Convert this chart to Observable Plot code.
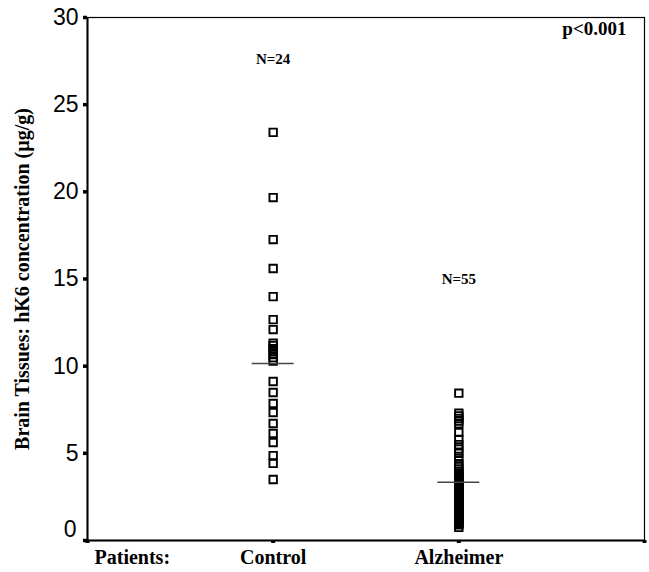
<!DOCTYPE html>
<html>
<head>
<meta charset="utf-8">
<script src="https://cdn.jsdelivr.net/npm/d3@7"></script>
<script src="https://cdn.jsdelivr.net/npm/@observablehq/plot@0.6"></script>
<style>
  html, body { margin: 0; padding: 0; background: #fff; }
  #chart svg { display: block; }
</style>
</head>
<body>
<div id="chart"></div>
<script>
// ---- Data ----
const groups = ["Control", "Alzheimer"];
const control = [23.41, 19.67, 17.26, 15.6, 13.99, 12.67, 12.1, 11.32, 11.18, 11.0,
  10.84, 10.67, 10.49, 10.29, 9.12, 8.49, 7.86, 7.34, 6.71, 6.14, 5.62, 4.87, 4.42, 3.5];
const alzheimer = [8.45, 7.3, 7.15, 7.0, 6.85, 6.7, 6.2, 5.8, 5.5, 5.25, 5.0, 4.7,
  4.4, 4.25, 4.1, 3.95, 3.85, 3.75, 3.65, 3.55, 3.5, 3.4, 3.3, 3.2, 3.1, 3.0,
  2.95, 2.85, 2.75, 2.65, 2.55, 2.45, 2.4, 2.3, 2.2, 2.1, 2.0, 1.95, 1.85, 1.75,
  1.7, 1.6, 1.5, 1.45, 1.4, 1.3, 1.25, 1.2, 1.15, 1.1, 1.05, 1.0, 0.95, 0.9, 0.75];
const centralValues = [10.15, 3.34];
const nLabels = ["N=24", "N=55"];
const yTicks = [0, 5, 10, 15, 20, 25, 30];
const xTicks = [0, 1, 2, 3];
const pLabel = "p<0.001";
const yTitle = "Brain Tissues: hK6 concentration (\u00b5g/g)";
const xTitle = "Patients:";

// ---- Tables built from the arrays ----
const points = [
  ...control.map(v => ({g: 1, value: v})),
  ...alzheimer.map(v => ({g: 2, value: v}))
];
const centers = centralValues.map((v, i) => ({g: i + 1, value: v}));
const nNotes = [{g: 1, y: 27.6, label: nLabels[0]}, {g: 2, y: 15.0, label: nLabels[1]}];

const serif = "'Liberation Serif', 'Times New Roman', serif";
const sans = "'Liberation Sans Narrow', 'Liberation Sans', Arial, sans-serif";

const chart = Plot.plot({
  width: 649,
  height: 572,
  marginLeft: 87,
  marginRight: 5,
  marginTop: 17,
  marginBottom: 32,
  style: {background: "#fff", color: "#000"},
  x: {domain: [0, 3]},
  y: {domain: [0, 30]},
  marks: [
    Plot.frame({stroke: "#000", strokeWidth: 1.2}),
    Plot.axisY({
      ticks: yTicks, tickSize: 4, tickPadding: 5, strokeWidth: 3.5,
      tickFormat: d => d === 0 ? "" : String(d),
      fontSize: 23, fontFamily: sans, fill: "#000", label: null
    }),
    Plot.axisY({
      ticks: [yTicks[0]], tickSize: 0, tickPadding: 11, dy: -11,
      fontSize: 23, fontFamily: sans, fill: "#000", label: null
    }),
    Plot.axisX({
      ticks: xTicks, tickSize: 3, tickPadding: 6, strokeWidth: 4,
      tickFormat: d => (d >= 1 && d <= 2) ? groups[d - 1] : "",
      fontSize: 20, fontWeight: "bold", fontFamily: serif, fill: "#000", label: null
    }),
    Plot.ruleX([0], {stroke: "#000", strokeWidth: 2}),
    Plot.ruleY([0], {stroke: "#000", strokeWidth: 2}),
    Plot.dot(points, {
      x: "g", y: "value", symbol: "square", r: 4.2,
      stroke: "#000", strokeWidth: 1.9, fill: "none"
    }),
    Plot.ruleY(centers, {
      y: "value", x1: d => d.g - 0.113, x2: d => d.g + 0.113,
      stroke: "#444", strokeWidth: 1.6
    }),
    Plot.text(nNotes, {
      x: "g", y: "y", text: "label",
      fontSize: 15, fontWeight: "bold", fontFamily: serif, fill: "#000"
    }),
    Plot.text([pLabel], {
      frameAnchor: "top-right", dx: -18, dy: 4, textAnchor: "end", lineAnchor: "top",
      fontSize: 19, fontWeight: "bold", fontFamily: serif, fill: "#000"
    }),
    Plot.text([xTitle], {
      frameAnchor: "bottom-left", dx: 7, dy: 9, textAnchor: "start", lineAnchor: "top",
      fontSize: 20, fontWeight: "bold", fontFamily: serif, fill: "#000"
    }),
    Plot.text([yTitle], {
      frameAnchor: "left", dx: -65, rotate: -90, textAnchor: "middle", lineAnchor: "middle",
      fontSize: 20, fontWeight: "bold", fontFamily: serif, fill: "#000"
    })
  ]
});
document.getElementById("chart").appendChild(chart);
</script>
</body>
</html>
